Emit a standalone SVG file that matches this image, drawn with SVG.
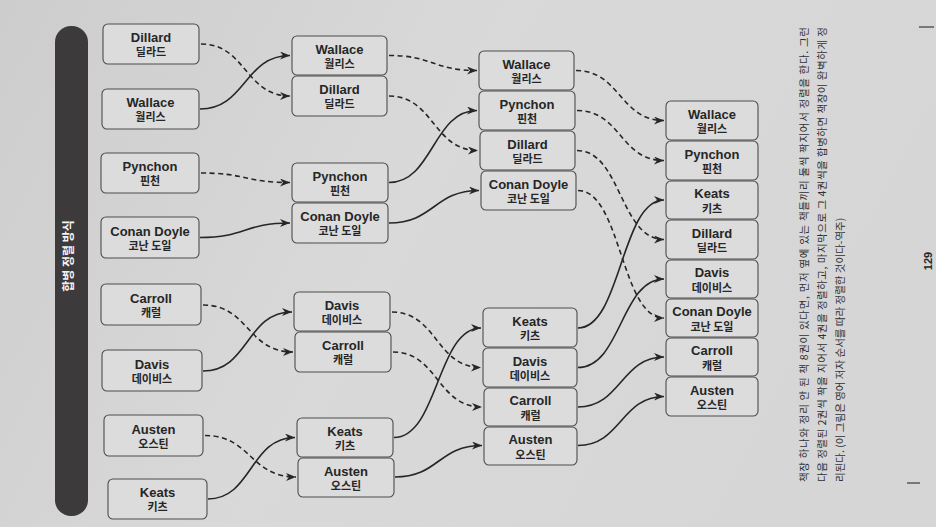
<svg xmlns="http://www.w3.org/2000/svg" width="936" height="527" viewBox="0 0 936 527">
<defs>
<linearGradient id="paper" x1="0" y1="0" x2="1" y2="0.3">
<stop offset="0" stop-color="#cdcdcd"/>
<stop offset="0.5" stop-color="#d9d9d9"/>
<stop offset="1" stop-color="#d6d6d6"/>
</linearGradient>
<marker id="ah" markerUnits="userSpaceOnUse" markerWidth="11" markerHeight="9" refX="10" refY="4" orient="auto" viewBox="0 0 11 9">
<path d="M0,0 L10,4 L0,8 L3,4 z" fill="#262626"/>
</marker>
<style>
.box{fill:#dcdcdc;stroke:#4d4d4d;stroke-width:1.1}
.en{font-family:"Liberation Sans","Noto Sans CJK KR",sans-serif;font-weight:bold;font-size:13px;fill:#262626;text-anchor:middle}
.ko{font-family:"Noto Sans CJK KR","Liberation Sans",sans-serif;font-weight:bold;font-size:11px;fill:#262626;text-anchor:middle}
.c{fill:none;stroke:#262626;stroke-width:1.6;marker-end:url(#ah)}
.d{stroke-dasharray:5 3.5}
.para{font-family:"Noto Sans CJK KR","Liberation Sans",sans-serif;font-size:10.5px;fill:#303030}
</style>
</defs>
<rect width="936" height="527" fill="url(#paper)"/>

<g id="tab">
<rect x="55" y="26" width="33" height="490" rx="16" fill="#3c3a3a"/>
<text transform="translate(73,256) rotate(-90)" text-anchor="middle" font-family="Noto Sans CJK KR, sans-serif" font-weight="bold" font-size="12" fill="#f2f2f2">합병 정렬 방식</text>
</g>

<!-- Column 1 -->
<g id="c1-dillard"><rect class="box" x="103" y="24" width="96" height="40" rx="5"/><text class="en" x="151" y="41.5">Dillard</text><text class="ko" x="151" y="56">딜라드</text></g>
<g id="c1-wallace"><rect class="box" x="102" y="89" width="97" height="40" rx="5"/><text class="en" x="150.5" y="106.5">Wallace</text><text class="ko" x="150.5" y="121">월리스</text></g>
<g id="c1-pynchon"><rect class="box" x="101" y="153" width="98" height="40" rx="5"/><text class="en" x="150" y="170.5">Pynchon</text><text class="ko" x="150" y="185">핀천</text></g>
<g id="c1-conandoyle"><rect class="box" x="101" y="217" width="98" height="41" rx="5"/><text class="en" x="150" y="235.5">Conan Doyle</text><text class="ko" x="150" y="250">코난 도일</text></g>
<g id="c1-carroll"><rect class="box" x="101" y="284" width="100" height="41" rx="5"/><text class="en" x="151" y="302.5">Carroll</text><text class="ko" x="151" y="317">캐럴</text></g>
<g id="c1-davis"><rect class="box" x="102" y="350" width="100" height="41" rx="5"/><text class="en" x="152" y="368.5">Davis</text><text class="ko" x="152" y="383">데이비스</text></g>
<g id="c1-austen"><rect class="box" x="104" y="415" width="99" height="41" rx="5"/><text class="en" x="153.5" y="433.5">Austen</text><text class="ko" x="153.5" y="448">오스틴</text></g>
<g id="c1-keats"><rect class="box" x="108" y="479" width="99" height="40" rx="5"/><text class="en" x="157.5" y="496.5">Keats</text><text class="ko" x="157.5" y="511">키츠</text></g>

<!-- Column 2 -->
<g id="c2-wallace"><rect class="box" x="292" y="36" width="95" height="39" rx="5"/><text class="en" x="339.5" y="53.5">Wallace</text><text class="ko" x="339.5" y="68">월리스</text></g>
<g id="c2-dillard"><rect class="box" x="292" y="76" width="95" height="40" rx="5"/><text class="en" x="339.5" y="93.5">Dillard</text><text class="ko" x="339.5" y="108">딜라드</text></g>
<g id="c2-pynchon"><rect class="box" x="292" y="163" width="96" height="39" rx="5"/><text class="en" x="340" y="180.5">Pynchon</text><text class="ko" x="340" y="195">핀천</text></g>
<g id="c2-conandoyle"><rect class="box" x="292" y="203" width="96" height="40" rx="5"/><text class="en" x="340" y="220.5">Conan Doyle</text><text class="ko" x="340" y="235">코난 도일</text></g>
<g id="c2-davis"><rect class="box" x="294" y="292" width="96" height="39" rx="5"/><text class="en" x="342" y="309.5">Davis</text><text class="ko" x="342" y="324">데이비스</text></g>
<g id="c2-carroll"><rect class="box" x="295" y="332" width="96" height="40" rx="5"/><text class="en" x="343" y="349.5">Carroll</text><text class="ko" x="343" y="364">캐럴</text></g>
<g id="c2-keats"><rect class="box" x="297" y="418" width="96" height="39" rx="5"/><text class="en" x="345" y="435.5">Keats</text><text class="ko" x="345" y="450">키츠</text></g>
<g id="c2-austen"><rect class="box" x="298" y="458" width="96" height="39" rx="5"/><text class="en" x="346" y="475.5">Austen</text><text class="ko" x="346" y="490">오스틴</text></g>

<!-- Column 3 -->
<g id="c3-wallace"><rect class="box" x="479" y="51" width="95" height="39" rx="5"/><text class="en" x="526.5" y="68.5">Wallace</text><text class="ko" x="526.5" y="83">월리스</text></g>
<g id="c3-pynchon"><rect class="box" x="479" y="91" width="96" height="39" rx="5"/><text class="en" x="527" y="108.5">Pynchon</text><text class="ko" x="527" y="123">핀천</text></g>
<g id="c3-dillard"><rect class="box" x="480" y="131" width="95" height="39" rx="5"/><text class="en" x="527.5" y="148.5">Dillard</text><text class="ko" x="527.5" y="163">딜라드</text></g>
<g id="c3-conandoyle"><rect class="box" x="481" y="171" width="95" height="39" rx="5"/><text class="en" x="528.5" y="188.5">Conan Doyle</text><text class="ko" x="528.5" y="203">코난 도일</text></g>
<g id="c3-keats"><rect class="box" x="483" y="308" width="94" height="39" rx="5"/><text class="en" x="530" y="325.5">Keats</text><text class="ko" x="530" y="340">키츠</text></g>
<g id="c3-davis"><rect class="box" x="483" y="348" width="94" height="39" rx="5"/><text class="en" x="530" y="365.5">Davis</text><text class="ko" x="530" y="380">데이비스</text></g>
<g id="c3-carroll"><rect class="box" x="484" y="388" width="93" height="38" rx="5"/><text class="en" x="530.5" y="405">Carroll</text><text class="ko" x="530.5" y="419.5">캐럴</text></g>
<g id="c3-austen"><rect class="box" x="484" y="427" width="93" height="38" rx="5"/><text class="en" x="530.5" y="444">Austen</text><text class="ko" x="530.5" y="458.5">오스틴</text></g>

<!-- Column 4 -->
<g id="c4-wallace"><rect class="box" x="666" y="101" width="92" height="39" rx="5"/><text class="en" x="712" y="118.5">Wallace</text><text class="ko" x="712" y="133">월리스</text></g>
<g id="c4-pynchon"><rect class="box" x="666" y="141" width="92" height="39" rx="5"/><text class="en" x="712" y="158.5">Pynchon</text><text class="ko" x="712" y="173">핀천</text></g>
<g id="c4-keats"><rect class="box" x="666" y="181" width="92" height="38" rx="5"/><text class="en" x="712" y="198">Keats</text><text class="ko" x="712" y="212.5">키츠</text></g>
<g id="c4-dillard"><rect class="box" x="666" y="220" width="92" height="39" rx="5"/><text class="en" x="712" y="237.5">Dillard</text><text class="ko" x="712" y="252">딜라드</text></g>
<g id="c4-davis"><rect class="box" x="666" y="260" width="92" height="38" rx="5"/><text class="en" x="712" y="277">Davis</text><text class="ko" x="712" y="291.5">데이비스</text></g>
<g id="c4-conandoyle"><rect class="box" x="666" y="299" width="92" height="38" rx="5"/><text class="en" x="712" y="316">Conan Doyle</text><text class="ko" x="712" y="330.5">코난 도일</text></g>
<g id="c4-carroll"><rect class="box" x="666" y="338" width="92" height="38" rx="5"/><text class="en" x="712" y="355">Carroll</text><text class="ko" x="712" y="369.5">캐럴</text></g>
<g id="c4-austen"><rect class="box" x="666" y="377" width="92" height="39" rx="5"/><text class="en" x="712" y="394.5">Austen</text><text class="ko" x="712" y="409">오스틴</text></g>

<g id="connectors">
<!-- column 1 to 2 -->
<path class="c d" d="M201,44 C246,44 245,96 290,96"/>
<path class="c" d="M200,109 C246,109 244,55.5 290,55.5"/>
<path class="c d" d="M201,173 C246,173 245,182.5 290,182.5"/>
<path class="c" d="M200,237.5 C246,237.5 244,223 290,223"/>
<path class="c d" d="M203,305 C249,305 247,352 293,352"/>
<path class="c" d="M203,371 C249,371 246,312 292,312"/>
<path class="c d" d="M205,435.5 C251,435.5 250,477 296,477"/>
<path class="c" d="M208,499 C252,499 250,437.5 295,437.5"/>
<!-- column 2 to 3 -->
<path class="c d" d="M389,55.5 C433,55.5 433,70.5 477,70.5"/>
<path class="c d" d="M389,96 C434,96 433,150.5 478,150.5"/>
<path class="c" d="M389,182.5 C433,182.5 433,110.5 477,110.5"/>
<path class="c" d="M389,223 C434,223 434,190.5 479,190.5"/>
<path class="c d" d="M392,312 C437,312 436,367.5 481,367.5"/>
<path class="c d" d="M393,352 C438,352 437,407 482,407"/>
<path class="c" d="M394,437.5 C438,437.5 437,328 481,328"/>
<path class="c" d="M395,477 C439,477 438,445.5 482,445.5"/>
<!-- column 3 to 4 -->
<path class="c d" d="M576,70.5 C620,70.5 620,120.5 664,120.5"/>
<path class="c d" d="M577,110.5 C621,110.5 620,160.5 664,160.5"/>
<path class="c d" d="M577,150.5 C621,150.5 620,239.5 664,239.5"/>
<path class="c d" d="M578,190.5 C621,190.5 621,318 664,318"/>
<path class="c" d="M578,328 C621,328 621,200 664,200"/>
<path class="c" d="M578,367.5 C621,367.5 621,279 664,279"/>
<path class="c" d="M578,407 C621,407 621,357 664,357"/>
<path class="c" d="M578,445.5 C621,445.5 621,396.5 664,396.5"/>
</g>

<g id="caption">
<text class="para" transform="translate(808,482) rotate(-90)" textLength="455" lengthAdjust="spacing">책장 하나와 정리 안 된 책 8권이 있다면, 먼저 옆에 있는 책들끼리 둘씩 짝지어서 정렬을 한다. 그런</text>
<text class="para" transform="translate(826,482) rotate(-90)" textLength="455" lengthAdjust="spacing">다음 정렬된 2권씩 짝을 지어서 4권을 정렬하고, 마지막으로 그 4권씩을 합병하면 책장이 완벽하게 정</text>
<text class="para" transform="translate(844,482) rotate(-90)">리된다. (이 그림은 영어 저자 순서를 따라 정렬한 것이다-역주)</text>
<text transform="translate(932,261) rotate(-90)" text-anchor="middle" font-family="Liberation Sans, sans-serif" font-weight="bold" font-size="11" fill="#262626">129</text>
<line x1="919" y1="27" x2="934" y2="27" stroke="#444" stroke-width="1.3"/>
<line x1="907" y1="483" x2="920" y2="483" stroke="#444" stroke-width="1.3"/>
</g>
</svg>
